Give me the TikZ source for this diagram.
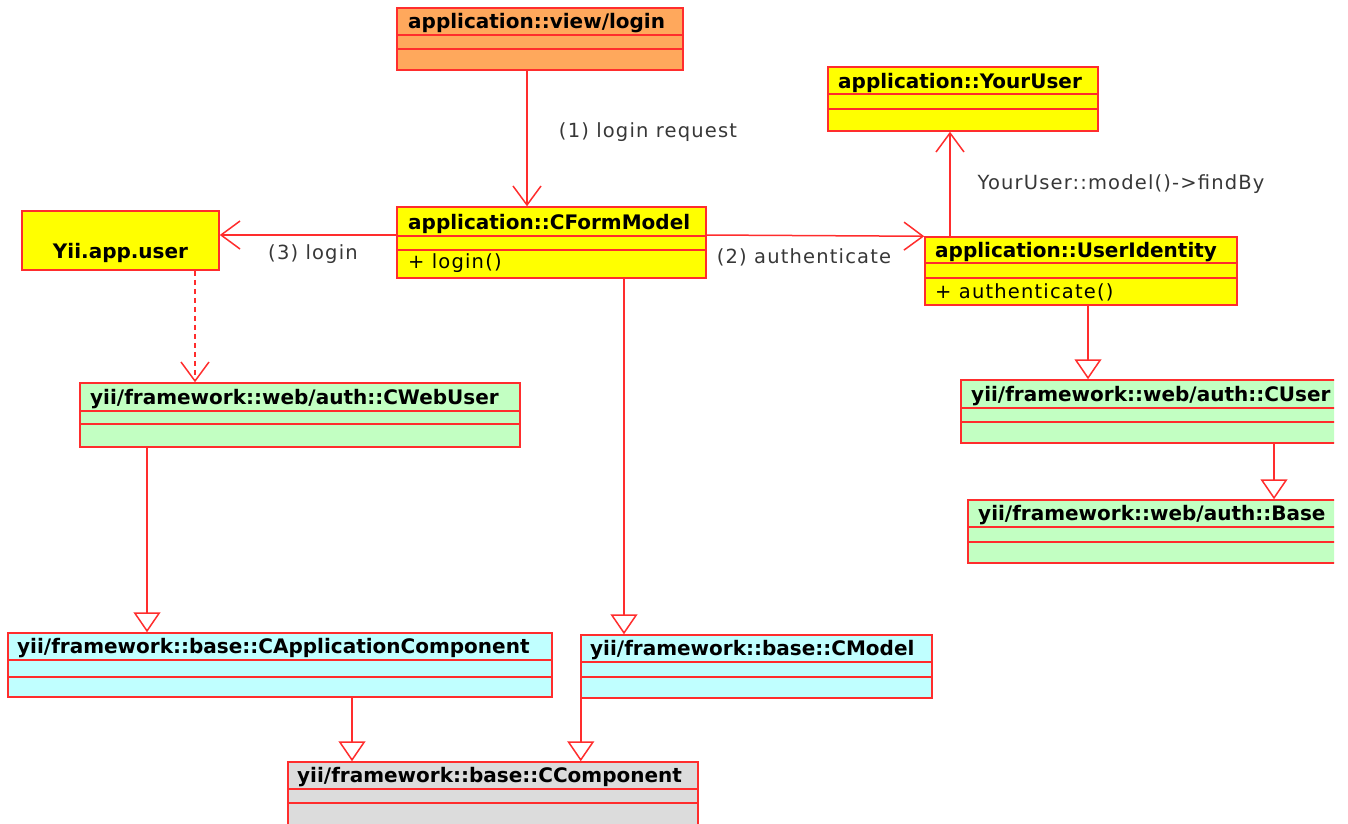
\documentclass[tikz,border=0pt]{standalone}
\usepackage{fontspec}
\setmainfont{DejaVu Sans}
\newfontfamily\labelfont[LetterSpace=6]{DejaVu Sans}
\usetikzlibrary{arrows.meta,fit}

\definecolor{edge}{RGB}{255,45,45}
\definecolor{fillorange}{RGB}{255,168,92}
\definecolor{fillyellow}{RGB}{255,255,0}
\definecolor{fillgreen}{RGB}{194,255,194}
\definecolor{fillcyan}{RGB}{192,255,255}
\definecolor{fillgray}{RGB}{220,220,220}
\definecolor{labelgray}{RGB}{55,55,55}

\tikzset{
  classbox/.style={draw=edge, line width=1.5pt, inner sep=0pt},
  divider/.style={draw=edge, line width=1.5pt},
  titletext/.style={anchor=west, inner sep=0pt, font=\fontsize{20}{22}\selectfont\bfseries},
  membertext/.style={anchor=west, inner sep=0pt, font=\labelfont\fontsize{19.5}{22}\selectfont},
  labeltext/.style={inner sep=0pt, text=labelgray, font=\labelfont\fontsize{19.5}{22}\selectfont},
  assoc/.style={draw=edge, line width=1.5pt, -{Straight Barb[length=19pt,width=28pt,line width=1.5pt]}},
  depend/.style={assoc, dash pattern=on 5pt off 4pt},
  generalize/.style={draw=edge, line width=1.5pt, -{Triangle[open,length=20pt,width=27pt,line width=1.5pt,fill=white]}},
}

% class box: name, fill, x1, y1, x2, y2, first divider y, second divider y
\newcommand{\umlbox}[8]{%
  \node[classbox, fill=#2, fit={(#3,#4) (#5,#6)}] (#1) {};
  \draw[divider] (#3,#7) -- (#5,#7);
  \draw[divider] (#3,#8) -- (#5,#8);
}

\begin{document}
\begin{tikzpicture}[x=1pt, y=-1pt]
\useasboundingbox (0,0) rectangle (1348,823);
\clip (0,0) rectangle (1334,823);

% classes
\umlbox{vl}{fillorange}{397}{8}{683}{70}{35}{49}
\node[titletext] at (408,23.5) {application::view/login};

\umlbox{yu}{fillyellow}{828}{67}{1098}{131}{94}{109}
\node[titletext] at (838,82.5) {application::YourUser};

\node[classbox, fill=fillyellow, fit={(22,211) (219,270)}] (yau) {};
\node[titletext, anchor=center] at (120.5,253) {Yii.app.user};

\umlbox{cfm}{fillyellow}{397}{207}{706}{278}{236}{250}
\node[titletext] at (408,223.5) {application::CFormModel};
\node[membertext] at (408,263.5) {+ login()};

\umlbox{ui}{fillyellow}{925}{237}{1237}{305}{263}{278}
\node[titletext] at (935,252) {application::UserIdentity};
\node[membertext] at (935,292) {+ authenticate()};

\umlbox{cu}{fillgreen}{961}{380}{1360}{443}{408}{422}
\node[titletext] at (971,396) {yii/framework::web/auth::CUser};

\umlbox{base}{fillgreen}{968}{500}{1360}{563}{527}{542}
\node[titletext] at (978,515.5) {yii/framework::web/auth::Base};

\umlbox{cwu}{fillgreen}{80}{383}{520}{447}{411}{424}
\node[titletext] at (90,399) {yii/framework::web/auth::CWebUser};

\umlbox{cac}{fillcyan}{8}{633}{552}{697}{660}{677}
\node[titletext] at (17,648.5) {yii/framework::base::CApplicationComponent};

\umlbox{cm}{fillcyan}{581}{635}{932}{698}{662}{677}
\node[titletext] at (590,650.5) {yii/framework::base::CModel};

\umlbox{cc}{fillgray}{288}{762}{698}{850}{789}{803}
\node[titletext] at (297,777.5) {yii/framework::base::CComponent};

% message flow
\draw[assoc] ([xshift=-13pt]vl.south) -- ([xshift=-13pt]vl.south |- cfm.north);
\node[labeltext] at (648,132) {(1) login request};

\draw[assoc] ([yshift=7.5pt]cfm.east) -- (ui.north west);
\node[labeltext] at (804,257) {(2) authenticate};

\draw[assoc] ([yshift=7.5pt]cfm.west) -- ([yshift=5.5pt]yau.east);
\node[labeltext] at (313,254) {(3) login};

\draw[assoc] ([xshift=-131pt]ui.north) -- ([xshift=-131pt]ui.north |- yu.south);
\node[labeltext] at (1121,184) {YourUser::model()->findBy};

\draw[depend] ([xshift=74.5pt]yau.south) -- ([xshift=74.5pt]yau.south |- cwu.north);

% inheritance
\draw[generalize] ([xshift=72.5pt]cfm.south) -- ([xshift=72.5pt]cfm.south |- cm.north);
\draw[generalize] ([xshift=7pt]ui.south) -- ([xshift=7pt]ui.south |- cu.north);
\draw[generalize] ([xshift=113.5pt]cu.south) -- ([xshift=113.5pt]cu.south |- base.north);
\draw[generalize] ([xshift=-153pt]cwu.south) -- ([xshift=-153pt]cwu.south |- cac.north);
\draw[generalize] ([xshift=72pt]cac.south) -- ([xshift=72pt]cac.south |- cc.north);
\draw[generalize] ([xshift=0.5pt]cm.south west) -- ([xshift=0.5pt]cm.south west |- cc.north);
\end{tikzpicture}
\end{document}
